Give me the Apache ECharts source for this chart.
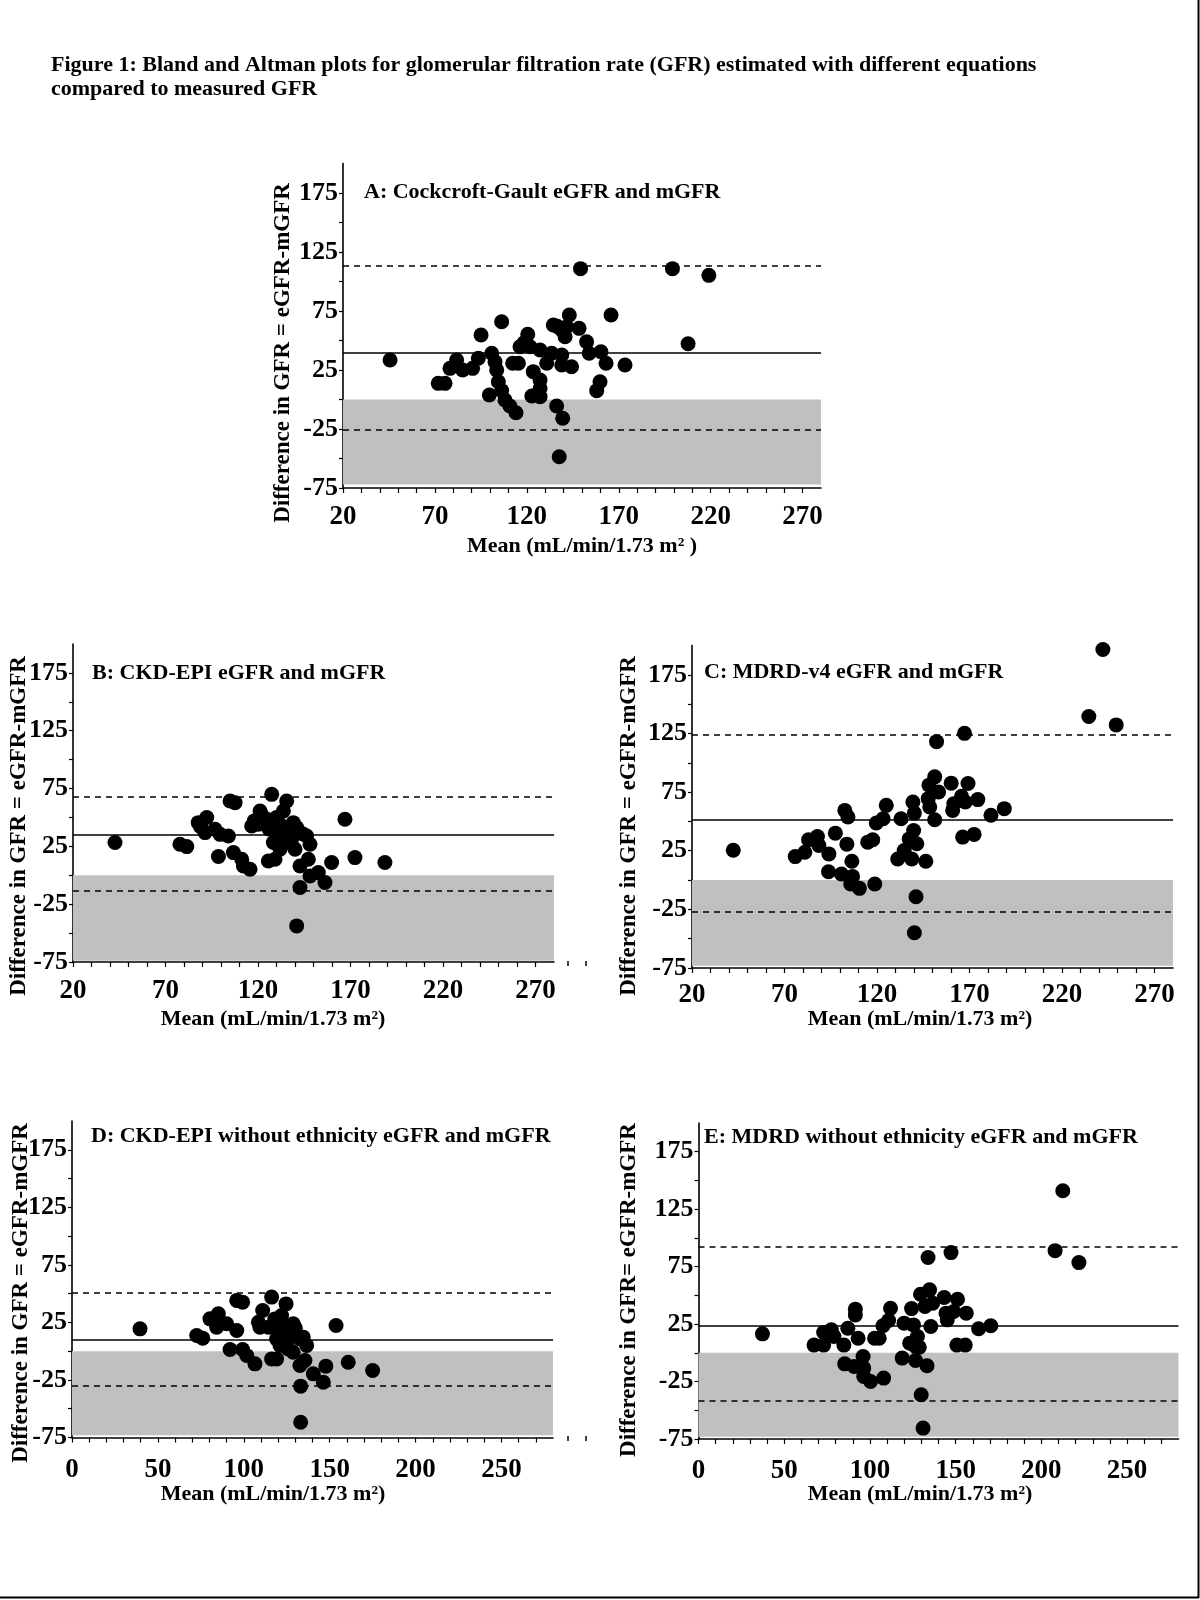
<!DOCTYPE html>
<html><head><meta charset="utf-8">
<script src="https://cdn.jsdelivr.net/npm/echarts@6/dist/echarts.min.js"></script>
<style>html,body{margin:0;padding:0;background:#fff}#c{width:1200px;height:1600px}</style>
</head><body><div id="c"></div>
<script>
// ---------------- DATA ----------------
const pointsA = [[45.6,33.5],[71.8,13.7],[75.5,13.7],[78.2,26.4],[81.8,33.5],[85.1,25],[90.5,26.4],[93.6,34.9],[95.1,54.7],[100.9,39.2],[102.7,32],[103.6,25],[104.5,15.1],[106.3,7.5],[99.6,3.8],[106.3,65.9],[108.1,-0.4],[110.8,-5.5],[114.1,-11.2],[112.3,30.7],[115.4,30.7],[116.3,44.7],[120.5,55.2],[121.7,44.7],[127.2,41.9],[123.5,23.6],[127.2,16.5],[127.2,9.5],[122.7,3],[127.2,2.4],[130.8,30.7],[133.5,39.2],[134.4,63.1],[139,37.7],[140.8,53.2],[139,58.9],[143.1,71.6],[141.7,61.7],[144.3,27.8],[139,29.2],[148.4,60.3],[152.5,49],[153.9,39.2],[160.3,40.5],[163.1,30.7],[159.8,15.1],[158,7.5],[165.8,71.6],[173.4,29.2],[136.2,-5.5],[139.5,-15.9],[137.6,-48.5],[149.2,110.9],[199.2,110.9],[207.7,47.3],[219,105.2],[118.5,48],[136.5,62]];
const pointsB = [[42.7,28.3],[77.8,26.8],[81.5,24.8],[87.7,45.5],[92.3,49.9],[91.4,36.9],[96.8,39.8],[99.5,35.4],[104,34],[104.9,64.2],[107.6,62.8],[98.6,16.2],[106.7,19.6],[111.2,13.8],[112.1,8],[115.7,5.2],[116.6,42.6],[121.1,55.6],[120.2,44.1],[124.7,48.4],[127.4,70],[125.6,12.4],[129.2,13.8],[128.3,28.3],[130.1,38.3],[131.9,44.1],[133.7,55.6],[135.5,64.2],[134.6,28.3],[131.9,22.5],[139.1,45.5],[137.3,38.3],[140,22.5],[140.9,41.2],[142.7,8],[146.3,34],[148.1,26.8],[147.2,13.8],[148.1,-0.6],[152.6,2.3],[156.2,-6.3],[142.7,-10.6],[159.8,11],[167,48.4],[172.4,15.3],[188.6,11],[140.9,-43.8],[89,42],[118,47],[126,40],[133,33],[138,30],[144,36],[130,50],[122,52]];
const pointsC = [[42.3,25.4],[75.8,20],[81,23.7],[83,34.3],[87.8,37.1],[88.6,29.4],[94,22.3],[97.5,40],[93.8,7.1],[100.8,5.1],[102.6,59.4],[104.3,53.7],[103.7,30.6],[106.4,16],[105.8,-3.4],[106.8,3.1],[110.5,-7.1],[115,32.3],[117.7,34.3],[118.8,-3.4],[119.6,48.6],[123.3,52.3],[125,63.7],[131.2,18],[134.7,25.1],[133,52.3],[137.4,35.1],[139.4,66.6],[140.2,57.1],[139.8,42.3],[138.8,18],[141.5,30.9],[141.1,-14.3],[140.2,-44.9],[146.4,16],[147.7,69.4],[148.1,80.9],[148.5,62.3],[151.2,88],[153.3,75.1],[151.2,51.4],[152.2,118],[160.1,82.6],[160.9,59.4],[161.5,65.1],[165.7,71.4],[167.3,125.1],[166.3,36.6],[167.7,66.6],[169.2,82.3],[172.5,38.9],[174.5,68.6],[181.6,55.2],[188.8,60.9],[234.5,139.4],[242.1,196.6],[249.3,132.3]];
const pointsD = [[39.6,19.4],[72.6,13.6],[76.1,11.3],[80.3,28.1],[85.2,32.5],[84.2,20.9],[90,23.8],[95.9,18],[92,1.5],[95.9,44.1],[99.3,42.6],[99.3,1.5],[101.7,-3.7],[106.5,-11],[111,35.4],[108.5,25.2],[109.4,20.9],[116.2,47],[114.3,20.9],[116.2,-6.7],[119.1,-6.7],[119.1,10.7],[122,31],[124.6,41.1],[123,22.3],[125.9,18],[128.8,23.8],[121.1,5],[125.9,2],[128.8,-0.9],[132.7,10.7],[134.6,12.2],[136.6,5],[135.6,-8.1],[132.7,-12.4],[140.5,-19.7],[146.3,-27],[147.8,-13],[133.1,-30.4],[160.8,-9.6],[153.7,22.3],[175,-16.8],[133.1,-61.7],[118,28],[120,16],[127,13],[130,20],[125,8]];
const pointsE = [[37.3,16.5],[67.4,6.7],[73,6.7],[73,17.7],[77.5,20],[79,14.2],[84.8,6.7],[87.1,21.4],[91.5,38],[91.5,33],[93.1,12.7],[85.3,-9.6],[90.8,-11.9],[96,-3.2],[96.4,-13.3],[96.4,-20.6],[100.4,-24.9],[108,-22],[102.7,12.7],[105.4,12.7],[107.6,23.5],[112,38.8],[110.9,28.1],[118.8,-4.6],[119.9,25.8],[123.2,8.4],[124.3,38.5],[125.4,24.3],[126.6,5.5],[127.7,14.2],[126.6,-6.7],[128.8,4.9],[129.5,51],[129.9,-36.5],[131,-65.5],[132.1,40.3],[133.3,-11.3],[133.9,82.9],[134.8,54.8],[135.5,22.9],[136.6,43.2],[143.3,48.1],[144.4,34.5],[145.1,28.7],[147.3,87.2],[148.9,35.9],[151.1,46.6],[150.7,6.7],[155.6,6.7],[156.2,34.5],[163.4,20.9],[170.5,23.5],[208,88.9],[212.5,141.1],[221.9,78.5]];

// [mean, upper limit, lower limit]
const linesA = [40, 113, -26];
const linesB = [35, 68, -13];
const linesC = [51, 124, -27];
const linesD = [10, 51, -30];
const linesE = [23.5, 92, -42];

const xLabelsABC = [20, 70, 120, 170, 220, 270];
const xLabelsDE = [0, 50, 100, 150, 200, 250];
const yLabels = [-75, -25, 25, 75, 125, 175];

const panelTitles = ['A: Cockcroft-Gault eGFR and mGFR', 'B: CKD-EPI eGFR and mGFR', 'C: MDRD-v4 eGFR and mGFR', 'D: CKD-EPI without ethnicity eGFR and mGFR', 'E: MDRD without ethnicity eGFR and mGFR'];
const yNames = ['Difference in GFR = eGFR-mGFR', 'Difference in GFR = eGFR-mGFR', 'Difference in GFR = eGFR-mGFR', 'Difference in GFR = eGFR-mGFR', 'Difference in GFR= eGFR-mGFR'];
const xNames = ['Mean (mL/min/1.73 m\u00B2 )', 'Mean (mL/min/1.73 m\u00B2)', 'Mean (mL/min/1.73 m\u00B2)', 'Mean (mL/min/1.73 m\u00B2)', 'Mean (mL/min/1.73 m\u00B2)'];
const figTitle1 = 'Figure 1: Bland and Altman plots for glomerular filtration rate (GFR) estimated with different equations';
const figTitle2 = 'compared to measured GFR';

// ---------------- LAYOUT ----------------
const FONT = '"Liberation Serif", "Times New Roman", serif';
const panels = [
  {pts: pointsA, lines: linesA, xmin: 20, xl: xLabelsABC, band: -72, xm: 16, g: {left: 343, top: 163.5, width: 478, height: 324.5},
   title: [364, 192], yName: [283, 353], xName: [582, 546]},
  {pts: pointsB, lines: linesB, xmin: 20, xl: xLabelsABC, band: -74, xm: 16, g: {left: 73, top: 644, width: 481, height: 318},
   title: [92, 673], yName: [19, 826], xName: [273, 1019]},
  {pts: pointsC, lines: linesC, xmin: 20, xl: xLabelsABC, band: -73, xm: 14, g: {left: 692, top: 645.5, width: 481, height: 322.5},
   title: [704, 672], yName: [629, 826], xName: [920, 1019]},
  {pts: pointsD, lines: linesD, xmin: 0, xl: xLabelsDE, band: -73, xm: 19, g: {left: 72, top: 1121, width: 481, height: 316.5},
   title: [91, 1136], yName: [21, 1293], xName: [273, 1494]},
  {pts: pointsE, lines: linesE, xmin: 0, xl: xLabelsDE, band: -73, xm: 19, g: {left: 698.5, top: 1123, width: 480, height: 316},
   title: [704, 1137], yName: [629, 1290], xName: [920, 1494]}
];
const XMAX = 280, YMIN = -75, YMAX = 200;

function range(a, b, s) { const r = []; for (let v = a; v <= b + 1e-9; v += s) r.push(v); return r; }

const grid = [], xAxis = [], yAxis = [], series = [], graphic = [];
panels.forEach((p, i) => {
  grid.push(Object.assign({containLabel: false}, p.g));
  xAxis.push({
    gridIndex: i, type: 'value', min: p.xmin, max: XMAX,
    axisLine: {show: true, onZero: false, lineStyle: {color: '#000', width: 1.6}},
    axisTick: {show: true, customValues: range(p.xmin, 270, 10), length: 5, lineStyle: {color: '#000', width: 1.2}},
    axisLabel: {customValues: p.xl, color: '#000', fontFamily: FONT, fontWeight: 'bold', fontSize: 27, margin: p.xm},
    splitLine: {show: false}
  });
  yAxis.push({
    gridIndex: i, type: 'value', min: YMIN, max: YMAX,
    axisLine: {show: true, onZero: false, lineStyle: {color: '#000', width: 1.6}},
    axisTick: {show: true, customValues: range(-75, 175, 25), length: 4, lineStyle: {color: '#000', width: 1.2}},
    axisLabel: {customValues: yLabels, color: '#000', fontFamily: FONT, fontWeight: 'bold', fontSize: 26, margin: 5, padding: [6, 0, 0, 0]},
    splitLine: {show: false}
  });
  series.push({
    type: 'scatter', xAxisIndex: i, yAxisIndex: i, data: [], silent: true, z: 1,
    markArea: {silent: true, itemStyle: {color: '#c0c0c0'},
      data: [[{coord: [p.xmin, 0]}, {coord: [XMAX, p.band]}]]},
    markLine: {silent: true, symbol: 'none', label: {show: false}, animation: false,
      lineStyle: {color: '#000', width: 1.5},
      data: [
        {yAxis: p.lines[0], lineStyle: {type: 'solid', color: '#000', width: 1.5}},
        {yAxis: p.lines[1], lineStyle: {type: [6, 5], color: '#000', width: 1.5}},
        {yAxis: p.lines[2], lineStyle: {type: [6, 5], color: '#000', width: 1.5}}
      ]}
  });
  series.push({
    type: 'scatter', xAxisIndex: i, yAxisIndex: i, data: p.pts, symbol: 'circle', symbolSize: 15,
    itemStyle: {color: '#000', opacity: 1}, silent: true, z: 3
  });
  graphic.push({type: 'text', x: p.title[0], y: p.title[1],
    style: {text: panelTitles[i], fill: '#000', font: 'bold 22px ' + FONT, textAlign: 'left', textVerticalAlign: 'middle'}});
  graphic.push({type: 'text', x: p.yName[0], y: p.yName[1], rotation: Math.PI / 2,
    style: {text: yNames[i], fill: '#000', font: 'bold 23px ' + FONT, textAlign: 'center', textVerticalAlign: 'middle'}});
  graphic.push({type: 'text', x: p.xName[0], y: p.xName[1],
    style: {text: xNames[i], fill: '#000', font: 'bold 22px ' + FONT, textAlign: 'center', textVerticalAlign: 'middle'}});
});

graphic.push({type: 'text', x: 51, y: 65, style: {text: figTitle1, fill: '#000', font: 'bold 22px ' + FONT, textAlign: 'left', textVerticalAlign: 'middle'}});
graphic.push({type: 'text', x: 51, y: 89, style: {text: figTitle2, fill: '#000', font: 'bold 22px ' + FONT, textAlign: 'left', textVerticalAlign: 'middle'}});
// small stray marks to the right of panels B and D x-axes
[[568, 961], [586, 961], [568, 1436], [586, 1436]].forEach(c => {
  graphic.push({type: 'line', shape: {x1: c[0], y1: c[1], x2: c[0], y2: c[1] + 5}, style: {stroke: '#000', lineWidth: 1.5}});
});
// page frame (right and bottom edges)
graphic.push({type: 'line', shape: {x1: 1198.5, y1: 0, x2: 1198.5, y2: 1598}, style: {stroke: '#000', lineWidth: 2}});
graphic.push({type: 'line', shape: {x1: 0, y1: 1597.5, x2: 1199, y2: 1597.5}, style: {stroke: '#000', lineWidth: 2}});

const chart = echarts.init(document.getElementById('c'), null, {renderer: 'canvas'});
chart.setOption({animation: false, backgroundColor: '#fff', grid, xAxis, yAxis, series, graphic});
</script></body></html>
